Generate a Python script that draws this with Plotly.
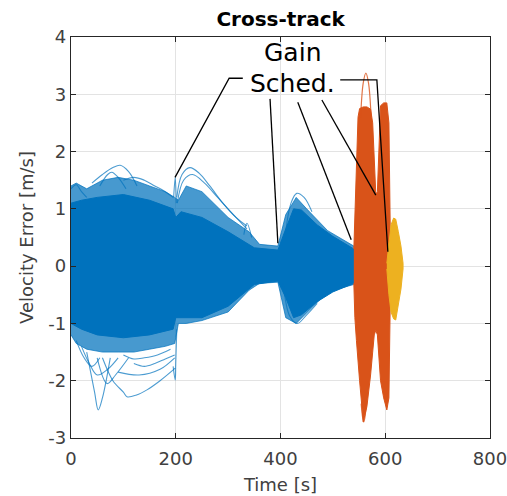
import plotly.graph_objects as go

# ---------------- data ----------------
# Blue: dense core envelope
blue_core_t = [0, 20, 50, 100, 150, 195, 200, 210, 250, 300, 350, 395, 410, 425, 440, 470, 500, 540, 546]
blue_core_up = [1.1, 1.15, 1.2, 1.25, 1.15, 1.0, 0.85, 0.95, 0.85, 0.6, 0.32, 0.28, 0.65, 1.0, 0.98, 0.72, 0.52, 0.3, 0.25]
blue_core_lo = [-1.0, -1.1, -1.2, -1.25, -1.2, -1.1, -0.9, -0.9, -0.9, -0.7, -0.32, -0.26, -0.55, -0.9, -0.85, -0.62, -0.45, -0.3, -0.25]
# Blue: thinner line halo envelope
blue_halo_t = [0, 10, 30, 60, 90, 120, 150, 180, 198, 205, 220, 250, 300, 340, 360, 395, 410, 430, 450, 490, 540, 546]
blue_halo_up = [1.4, 1.45, 1.35, 1.5, 1.55, 1.5, 1.4, 1.3, 1.2, 1.15, 1.4, 1.3, 0.85, 0.6, 0.38, 0.35, 0.9, 1.2, 1.0, 0.62, 0.35, 0.3]
blue_halo_lo = [-1.2, -1.35, -1.45, -1.5, -1.5, -1.5, -1.45, -1.4, -1.35, -1.0, -1.0, -0.95, -0.8, -0.42, -0.3, -0.28, -0.9, -1.0, -0.82, -0.45, -0.32, -0.3]
# Blue: individual outlying trajectories
blue_out_t = [
    [40, 60, 80, 94, 110, 126],
    [55, 70, 78, 90, 105],
    [100, 120, 140, 160, 180, 195],
    [0, 10, 20, 30],
    [196, 199, 201],
    [202, 212, 227, 245, 265, 290, 315, 336],
    [203, 215, 232, 255, 280, 310, 336],
    [330, 336, 345],
    [410, 420, 431, 445, 460],
    [30, 45, 52, 60, 75],
    [60, 80, 100, 107, 125, 145, 170, 199],
    [50, 69, 85, 110],
    [195, 199, 200, 202],
    [90, 130, 170, 198],
    [405, 418, 432, 450, 470],
    [20, 35, 50, 70, 90],
    [120, 140, 160, 180, 198],
    [10, 25, 40, 55],
    [100, 120, 140, 165, 190],
]
blue_out_y = [
    [1.45, 1.6, 1.72, 1.76, 1.65, 1.4],
    [1.4, 1.6, 1.64, 1.55, 1.35],
    [1.5, 1.55, 1.5, 1.4, 1.3, 1.2],
    [1.35, 1.42, 1.3, 1.2],
    [1.2, 1.55, 1.1],
    [1.2, 1.6, 1.72, 1.62, 1.4, 1.1, 0.85, 0.7],
    [1.1, 1.5, 1.6, 1.45, 1.2, 0.9, 0.65],
    [0.55, 0.75, 0.5],
    [0.6, 1.1, 1.27, 1.2, 0.95],
    [-1.5, -2.2, -2.51, -2.3, -1.6],
    [-1.6, -2.0, -2.2, -2.28, -2.25, -2.16, -2.0, -1.78],
    [-1.6, -2.05, -1.9, -1.6],
    [-1.75, -1.99, -1.7, -1.1],
    [-1.85, -1.9, -1.8, -1.6],
    [-0.3, -0.88, -1.0, -0.85, -0.65],
    [-1.4, -1.7, -1.9, -1.8, -1.6],
    [-1.7, -1.75, -1.7, -1.62, -1.55],
    [-1.3, -1.6, -1.75, -1.6],
    [-1.55, -1.62, -1.6, -1.55, -1.45],
]
# Orange
orange_t = [540, 542, 545, 548, 551, 558, 565, 572, 576, 579, 582, 585, 588, 591, 597, 603, 607, 609, 610]
orange_up = [0.3, 0.9, 2.0, 2.6, 2.75, 2.78, 2.78, 2.74, 2.5, 1.8, 1.25, 1.3, 2.2, 2.8, 2.85, 2.85, 2.5, 1.5, 0.3]
orange_lo = [-0.3, -0.9, -1.3, -1.7, -2.0, -2.72, -2.45, -1.9, -1.5, -1.2, -1.12, -1.2, -1.6, -2.0, -2.3, -2.51, -2.3, -1.5, -0.3]
orange_out_t = [[553, 558, 563, 568, 573], [554, 557, 559, 561, 564]]
orange_out_y = [[2.6, 3.2, 3.37, 3.2, 2.6], [-2.4, -2.65, -2.72, -2.65, -2.4]]
# Yellow
yellow_t = [603, 607, 611, 616, 620, 625, 630, 634]
yellow_up = [0.05, 0.45, 0.72, 0.84, 0.82, 0.6, 0.35, 0.05]
yellow_lo = [-0.05, -0.5, -0.8, -0.92, -0.94, -0.7, -0.4, -0.05]

# Annotation ("Gain Sched.") leader lines
ann_lines_t = [[328, 302, 198.6], [380, 395], [433, 535], [479, 582], [514, 584, 605]]
ann_lines_y = [[3.28, 3.28, 1.55], [2.92, 0.40], [2.86, 0.46], [2.90, 1.24], [3.25, 3.25, 0.25]]

x_ticks = [0, 200, 400, 600, 800]
y_ticks = [-3, -2, -1, 0, 1, 2, 3, 4]

BLUE = "#0072BD"
ORANGE = "#D95319"
YELLOW = "#EDB120"

fig = go.Figure()


def band(t, up, lo, fill, line_color, width):
    fig.add_trace(go.Scatter(
        x=t + t[::-1], y=up + lo[::-1], mode="lines", fill="toself",
        fillcolor=fill, line=dict(color=line_color, width=width),
        hoverinfo="skip", showlegend=False))


band(blue_halo_t, blue_halo_up, blue_halo_lo, "rgba(0,114,189,0.72)", "rgba(0,114,189,0.7)", 1)
band(blue_core_t, blue_core_up, blue_core_lo, BLUE, BLUE, 1)
for tt, yy in zip(blue_out_t, blue_out_y):
    fig.add_trace(go.Scatter(x=tt, y=yy, mode="lines", line=dict(color="rgba(0,114,189,0.7)", width=1.1, shape="spline"),
                             hoverinfo="skip", showlegend=False))

band(orange_t, orange_up, orange_lo, ORANGE, ORANGE, 1)
for tt, yy in zip(orange_out_t, orange_out_y):
    fig.add_trace(go.Scatter(x=tt, y=yy, mode="lines", line=dict(color="rgba(217,83,25,0.8)", width=1.2, shape="spline"),
                             hoverinfo="skip", showlegend=False))

band(yellow_t, yellow_up, yellow_lo, YELLOW, YELLOW, 1)

for tt, yy in zip(ann_lines_t, ann_lines_y):
    fig.add_trace(go.Scatter(x=tt, y=yy, mode="lines", line=dict(color="#000000", width=1.3),
                             hoverinfo="skip", showlegend=False))

FONT = "DejaVu Sans"
fig.add_annotation(x=422, y=3.73, xref="x", yref="y", text="Gain", showarrow=False,
                   font=dict(family=FONT, size=25, color="#000000"))
fig.add_annotation(x=422, y=3.18, xref="x", yref="y", text="Sched.", showarrow=False,
                   font=dict(family=FONT, size=25, color="#000000"))

axis_common = dict(
    showgrid=True, gridcolor="#e3e3e3", gridwidth=1,
    showline=True, linecolor="#262626", linewidth=1.2, mirror="allticks",
    ticks="inside", ticklen=5, tickcolor="#262626",
    tickfont=dict(family=FONT, size=18, color="#404040"),
    zeroline=False, automargin=False, ticklabeloverflow="allow",
)
fig.update_xaxes(range=[0, 800], tickvals=x_ticks, ticktext=[str(v) for v in x_ticks],
                 ticklabelstandoff=4,
                 title=dict(text="Time [s]", font=dict(family=FONT, size=18, color="#404040"), standoff=10),
                 **axis_common)
fig.update_yaxes(range=[-3, 4], tickvals=y_ticks, ticktext=[str(v) for v in y_ticks],
                 title=dict(text="Velocity Error [m/s]", font=dict(family=FONT, size=18, color="#404040"), standoff=10),
                 **axis_common)

fig.update_layout(
    width=507, height=496,
    margin=dict(l=71, r=17, t=37, b=58, autoexpand=False),
    paper_bgcolor="white", plot_bgcolor="white",
    title=dict(text="<b>Cross-track</b>", x=0.5535, xanchor="center", y=0.962, yanchor="middle",
               font=dict(family=FONT, size=20, color="#000000")),
    showlegend=False,
)

fig.write_html("out.html")
